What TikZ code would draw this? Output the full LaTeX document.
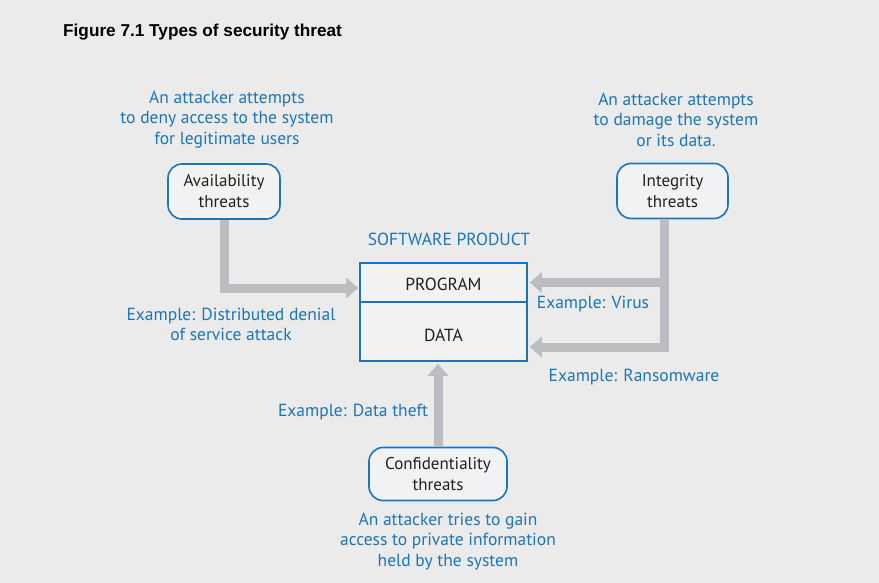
\documentclass[tikz,border=0pt]{standalone}
\usepackage{fontspec}
\setmainfont{PT Sans}
\newfontfamily\titlefont{Liberation Sans}
\usetikzlibrary{arrows.meta,positioning}
\definecolor{bgGray}{HTML}{EBEBEB}
\definecolor{boxBlue}{HTML}{1B75BC}
\definecolor{boxFill}{HTML}{F1F2F4}
\definecolor{arrGray}{HTML}{BCBDC0}
\definecolor{txtDark}{HTML}{231F20}
\tikzset{
	threatbox/.style={draw=boxBlue,line width=1.6pt,fill=boxFill,rounded corners=14pt,align=center,
		text=txtDark,font=\fontsize{17}{21}\selectfont,inner sep=0pt},
	partbox/.style={draw=boxBlue,line width=1.6pt,fill=boxFill,minimum width=167pt,inner sep=0pt,
		text=txtDark,font=\fontsize{17.5}{20}\selectfont},
	note/.style={text=boxBlue,align=center,font=\fontsize{17.5}{20.5}\selectfont,inner sep=0pt},
	threatarrow/.style={draw=arrGray,line width=9pt,-{Triangle[length=12pt,width=20pt]}},
}
\begin{document}
\begin{tikzpicture}[x=1pt,y=-1pt]
	\fill[bgGray] (0,0) rectangle (879,583);
	\useasboundingbox (0,0) rectangle (879,583);
	\node[anchor=west,inner sep=0pt,font=\titlefont\bfseries\fontsize{17.2}{20}\selectfont] (title) at (63,32) {Figure 7.1 Types of security threat};
	% product
	\node[note] (prodlabel) at (449,239) {SOFTWARE PRODUCT};
	\node[partbox,minimum height=39pt,text height=16pt,text depth=0pt] (prog) at (443.5,282.5) {PROGRAM};
	\node[partbox,minimum height=59pt,text height=20pt,text depth=0pt] (data) at (443.5,331.5) {DATA};
	% threat boxes
	\node[threatbox,minimum width=112pt,minimum height=55pt] (avail) at (224,191.5) {Availability\\threats};
	\node[threatbox,minimum width=111pt,minimum height=55pt] (integ) at (672.5,191) {Integrity\\threats};
	\node[threatbox,minimum width=138pt,minimum height=53pt] (conf) at (438,474) {Confidentiality\\threats};
	% descriptions
	\node[note] (availtxt) at (227,119.5) {An attacker attempts\\to deny access to the system\\for legitimate users};
	\node[note] (integtxt) at (676,119.5) {An attacker attempts\\to damage the system\\or its data.};
	\node[note] (conftxt) at (448,541.5) {An attacker tries to gain\\access to private information\\held by the system};
	% arrows
	\coordinate (integdown) at ([xshift=-8pt]integ.south);
	\coordinate (ransom) at ([yshift=-15.5pt]data.east);
	\draw[threatarrow] (avail.south) |- ([xshift=-1pt,yshift=-5.5pt]prog.west);
	\draw[threatarrow] (integdown) |- ([xshift=2pt]prog.east);
	\draw[threatarrow] (integdown) |- ([xshift=2pt]ransom);
	\draw[threatarrow] (conf.north) -- ([yshift=-2pt]conf.north |- data.south);
	% examples
	\node[note] (dosex) at (231,324.5) {Example: Distributed denial\\of service attack};
	\node[note] (virusex) at (593,304.5) {Example: Virus};
	\node[note] (ransomex) at (634,377.5) {Example: Ransomware};
	\node[note] (theftex) at (353,412.5) {Example: Data theft};
\end{tikzpicture}
\end{document}
